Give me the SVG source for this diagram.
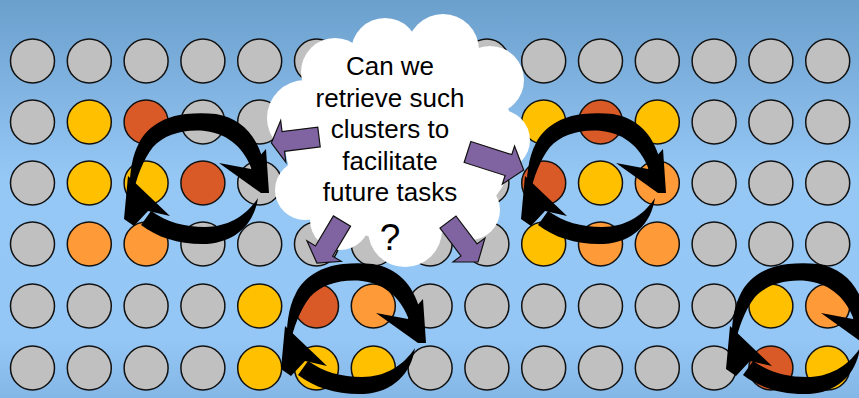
<svg xmlns="http://www.w3.org/2000/svg" xmlns:xlink="http://www.w3.org/1999/xlink" width="859" height="398" viewBox="0 0 859 398">
<defs>
<linearGradient id="bg" x1="0" y1="0" x2="0" y2="1">
<stop offset="0" stop-color="#6B9FCC"/>
<stop offset="0.45" stop-color="#96C8F6"/>
<stop offset="0.85" stop-color="#95C7F6"/>
<stop offset="1" stop-color="#84B6E6"/>
</linearGradient>
<g id="cycle">
<path d="M130,196 C129,178 131,158 139,143 C147,127 165,116 186,114 C196,113 206,113 216,114 C240,118 256,134 263,160 L252,170 C245,150 230,134 205,131 C183,129 164,135 153,147 C143,160 136,178 133,196 Z"/>
<path d="M219,163 L251,169 L257,159 L266,149 L269,193 L261,193 Z"/>
<path d="M258,198 C254,224 236,242 207,244 C181,245 158,238 141,225 L151,211 C167,222 184,227 205,227 C228,227 246,216 258,198 Z"/>
<path d="M128,176 L170,216 L148,211 L134,226 L124,219 Z"/>
</g>
</defs>
<style>
.g{fill:#C0C0C0}.y{fill:#FFC000}.d{fill:#D95A26}.o{fill:#FF9A38}
#grid circle{stroke:#111;stroke-width:1.5}
.cyc{fill:#000}
.pa{fill:#8064A2;stroke:#111;stroke-width:1.2;stroke-linejoin:miter}
.cloud{fill:#fff}
.t{font-family:"Liberation Sans",Arial,sans-serif;font-size:26px;fill:#000;text-anchor:middle}
.q{font-size:37px}
</style>
<rect width="859" height="398" fill="url(#bg)"/>
<g id="grid">
<g id="row0">
<circle cx="32.5" cy="61" r="22" class="g"/><circle cx="89.3" cy="61" r="22" class="g"/><circle cx="146.1" cy="61" r="22" class="g"/><circle cx="202.9" cy="61" r="22" class="g"/><circle cx="259.7" cy="61" r="22" class="g"/><circle cx="316.5" cy="61" r="22" class="g"/><circle cx="373.3" cy="61" r="22" class="g"/><circle cx="430.1" cy="61" r="22" class="g"/><circle cx="486.9" cy="61" r="22" class="g"/><circle cx="543.7" cy="61" r="22" class="g"/><circle cx="600.5" cy="61" r="22" class="g"/><circle cx="657.3" cy="61" r="22" class="g"/><circle cx="714.1" cy="61" r="22" class="g"/><circle cx="770.9" cy="61" r="22" class="g"/><circle cx="827.7" cy="61" r="22" class="g"/>
</g>
<g id="row1">
<circle cx="32.5" cy="122" r="22" class="g"/><circle cx="89.3" cy="122" r="22" class="y"/><circle cx="146.1" cy="122" r="22" class="d"/><circle cx="202.9" cy="122" r="22" class="g"/><circle cx="259.7" cy="122" r="22" class="g"/><circle cx="316.5" cy="122" r="22" class="g"/><circle cx="373.3" cy="122" r="22" class="g"/><circle cx="430.1" cy="122" r="22" class="g"/><circle cx="486.9" cy="122" r="22" class="g"/><circle cx="543.7" cy="122" r="22" class="y"/><circle cx="600.5" cy="122" r="22" class="d"/><circle cx="657.3" cy="122" r="22" class="y"/><circle cx="714.1" cy="122" r="22" class="g"/><circle cx="770.9" cy="122" r="22" class="g"/><circle cx="827.7" cy="122" r="22" class="g"/>
</g>
<g id="row2">
<circle cx="32.5" cy="183" r="22" class="g"/><circle cx="89.3" cy="183" r="22" class="y"/><circle cx="146.1" cy="183" r="22" class="y"/><circle cx="202.9" cy="183" r="22" class="d"/><circle cx="259.7" cy="183" r="22" class="g"/><circle cx="316.5" cy="183" r="22" class="g"/><circle cx="373.3" cy="183" r="22" class="g"/><circle cx="430.1" cy="183" r="22" class="g"/><circle cx="486.9" cy="183" r="22" class="g"/><circle cx="543.7" cy="183" r="22" class="d"/><circle cx="600.5" cy="183" r="22" class="y"/><circle cx="657.3" cy="183" r="22" class="o"/><circle cx="714.1" cy="183" r="22" class="g"/><circle cx="770.9" cy="183" r="22" class="g"/><circle cx="827.7" cy="183" r="22" class="g"/>
</g>
<g id="row3">
<circle cx="32.5" cy="244" r="22" class="g"/><circle cx="89.3" cy="244" r="22" class="o"/><circle cx="146.1" cy="244" r="22" class="o"/><circle cx="202.9" cy="244" r="22" class="g"/><circle cx="259.7" cy="244" r="22" class="g"/><circle cx="316.5" cy="244" r="22" class="g"/><circle cx="373.3" cy="244" r="22" class="g"/><circle cx="430.1" cy="244" r="22" class="g"/><circle cx="486.9" cy="244" r="22" class="g"/><circle cx="543.7" cy="244" r="22" class="y"/><circle cx="600.5" cy="244" r="22" class="o"/><circle cx="657.3" cy="244" r="22" class="o"/><circle cx="714.1" cy="244" r="22" class="g"/><circle cx="770.9" cy="244" r="22" class="g"/><circle cx="827.7" cy="244" r="22" class="g"/>
</g>
<g id="row4">
<circle cx="32.5" cy="306" r="22" class="g"/><circle cx="89.3" cy="306" r="22" class="g"/><circle cx="146.1" cy="306" r="22" class="g"/><circle cx="202.9" cy="306" r="22" class="g"/><circle cx="259.7" cy="306" r="22" class="y"/><circle cx="316.5" cy="306" r="22" class="d"/><circle cx="373.3" cy="306" r="22" class="o"/><circle cx="430.1" cy="306" r="22" class="g"/><circle cx="486.9" cy="306" r="22" class="g"/><circle cx="543.7" cy="306" r="22" class="g"/><circle cx="600.5" cy="306" r="22" class="g"/><circle cx="657.3" cy="306" r="22" class="g"/><circle cx="714.1" cy="306" r="22" class="g"/><circle cx="770.9" cy="306" r="22" class="y"/><circle cx="827.7" cy="306" r="22" class="o"/>
</g>
<g id="row5">
<circle cx="32.5" cy="368" r="22" class="g"/><circle cx="89.3" cy="368" r="22" class="g"/><circle cx="146.1" cy="368" r="22" class="g"/><circle cx="202.9" cy="368" r="22" class="g"/><circle cx="259.7" cy="368" r="22" class="y"/><circle cx="316.5" cy="368" r="22" class="y"/><circle cx="373.3" cy="368" r="22" class="y"/><circle cx="430.1" cy="368" r="22" class="g"/><circle cx="486.9" cy="368" r="22" class="g"/><circle cx="543.7" cy="368" r="22" class="g"/><circle cx="600.5" cy="368" r="22" class="g"/><circle cx="657.3" cy="368" r="22" class="g"/><circle cx="714.1" cy="368" r="22" class="g"/><circle cx="770.9" cy="368" r="22" class="d"/><circle cx="827.7" cy="368" r="22" class="y"/>
</g>
</g>
<g id="cycles" class="cyc">
<use id="cycle1" xlink:href="#cycle" href="#cycle"/>
<use id="cycle2" xlink:href="#cycle" href="#cycle" transform="translate(397,0)"/>
<use id="cycle3" xlink:href="#cycle" href="#cycle" transform="translate(157,150)"/>
<use id="cycle4" xlink:href="#cycle" href="#cycle" transform="translate(602,150)"/>
</g>
<g id="cloud">
<g class="cloud">
<ellipse cx="400" cy="142" rx="115" ry="98"/>
<circle cx="305" cy="118" r="38"/>
<circle cx="305" cy="190" r="30"/>
<circle cx="335" cy="72" r="34"/>
<circle cx="385" cy="52" r="34"/>
<circle cx="443" cy="50" r="36"/>
<circle cx="490" cy="80" r="34"/>
<circle cx="500" cy="140" r="30"/>
<circle cx="470" cy="210" r="30"/>
<circle cx="405" cy="230" r="37"/>
<circle cx="340" cy="220" r="30"/>
</g>
<text class="t"><tspan x="390" y="75">Can we</tspan><tspan x="390" y="107">retrieve such</tspan><tspan x="390" y="138">clusters to</tspan><tspan x="390" y="170">facilitate</tspan><tspan x="390" y="201">future tasks</tspan><tspan x="390" y="250" class="q">?</tspan></text>
</g>
<g id="connectors">
<path class="pa" transform="translate(319,137) rotate(172.9)" d="M0,-10 L36,-10 L36,-21 L48,0 L36,21 L36,10 L0,10 Z"/>
<path class="pa" transform="translate(467.5,152) rotate(17.7)" d="M0,-11 L43,-11 L43,-20 L59,0 L43,20 L43,11 L0,11 Z"/>
<path class="pa" transform="translate(342,221) rotate(120.8)" d="M0,-10 L35,-10 L35,-20 L49,0 L35,20 L35,10 L0,10 Z"/>
<path class="pa" transform="translate(448,222) rotate(53.1)" d="M0,-10 L35,-10 L35,-20 L50,0 L35,20 L35,10 L0,10 Z"/>
</g>
</svg>
